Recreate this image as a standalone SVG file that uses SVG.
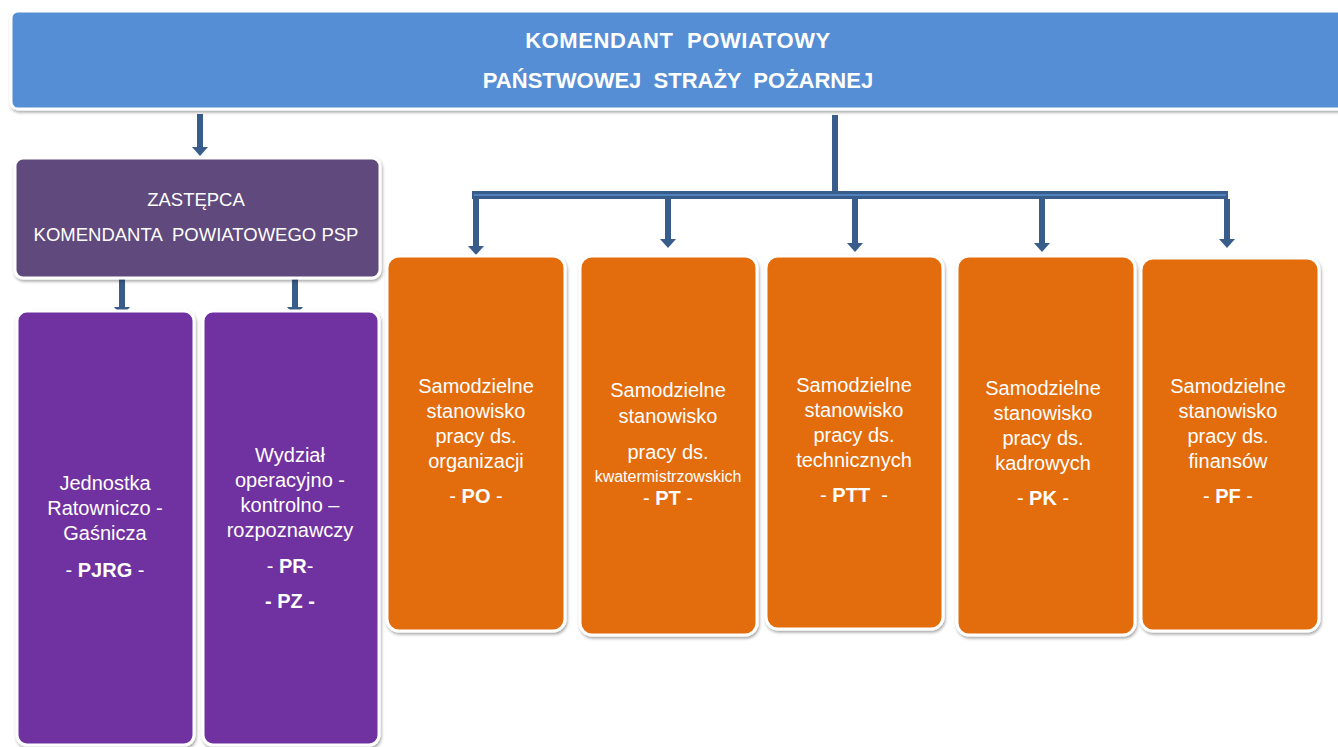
<svg xmlns="http://www.w3.org/2000/svg" width="1338" height="747" viewBox="0 0 1338 747">
<style>
.box{stroke:#fff;stroke-width:3}
.blue{fill:#558ED5}
.dep{fill:#604A7B}
.pur{fill:#7030A0}
.ora{fill:#E36C0A}
text{font-family:"Liberation Sans",Arial,sans-serif;fill:#fff;text-anchor:middle;white-space:pre}
.t{font-size:20px}
.b{font-size:20px;font-weight:bold}
.h{font-size:22px;font-weight:bold}
.z{font-size:18.5px}
.s{font-size:16px}
.c{fill:none;stroke:#385D8A;stroke-width:6}
.ci{fill:none;stroke:#4F81BD;stroke-width:2}
.a{fill:#385D8A}
</style>
<defs>
<filter id="sh" x="-10%" y="-10%" width="120%" height="120%">
<feDropShadow dx="1" dy="2" stdDeviation="1.6" flood-color="#000" flood-opacity="0.35"/>
</filter>
</defs>
<g id="connectors">
<path class="c" d="M200,114 V149"/>
<path class="a" d="M192,147 H208 L200,156 Z"/>
<path class="c" d="M122,277 V308"/>
<path class="a" d="M114,307 H130 L122,316 Z"/>
<path class="c" d="M295,277 V308"/>
<path class="a" d="M287,307 H303 L295,316 Z"/>
<path class="c" d="M835,115 V195"/>
<path class="c" d="M472,195 H1228" style="stroke-width:8"/>
<path class="ci" d="M474,195 H1226"/>
<path class="c" d="M476,199 V247"/>
<path class="a" d="M468,246 H484 L476,255 Z"/>
<path class="c" d="M668,199 V240"/>
<path class="a" d="M660,239 H676 L668,248 Z"/>
<path class="c" d="M855,199 V244"/>
<path class="a" d="M847,243 H863 L855,252 Z"/>
<path class="c" d="M1042,199 V244"/>
<path class="a" d="M1034,243 H1050 L1042,252 Z"/>
<path class="c" d="M1227,199 V240"/>
<path class="a" d="M1219,239 H1235 L1227,248 Z"/>
</g>
<g id="komendant">
<rect class="box blue" x="11" y="11" width="1340" height="98" rx="7" filter="url(#sh)"/>
<text class="h" x="678" y="48" style="letter-spacing:0.6px">KOMENDANT  POWIATOWY</text>
<text class="h" x="678" y="88">PAŃSTWOWEJ  STRAŻY  POŻARNEJ</text>
</g>
<g id="zastepca">
<rect class="box dep" x="15" y="158" width="365" height="120" rx="8" filter="url(#sh)"/>
<text class="z" x="196" y="206">ZASTĘPCA</text>
<text class="z" x="196" y="241">KOMENDANTA  POWIATOWEGO PSP</text>
</g>
<g id="pjrg">
<rect class="box pur" x="17" y="311" width="177" height="434" rx="10" filter="url(#sh)"/>
<text class="t" x="105" y="490">Jednostka</text>
<text class="t" x="105" y="515">Ratowniczo -</text>
<text class="t" x="105" y="540">Gaśnicza</text>
<text class="t" x="105" y="577">- <tspan font-weight="bold">PJRG</tspan> -</text>
</g>
<g id="pr">
<rect class="box pur" x="203" y="311" width="176" height="434" rx="10" filter="url(#sh)"/>
<text class="t" x="290" y="462">Wydział</text>
<text class="t" x="290" y="487">operacyjno -</text>
<text class="t" x="290" y="512">kontrolno –</text>
<text class="t" x="290" y="537">rozpoznawczy</text>
<text class="t" x="290" y="573">- <tspan font-weight="bold">PR</tspan>-</text>
<text class="b" x="290" y="608">- PZ -</text>
</g>
<g id="po">
<rect class="box ora" x="387" y="256" width="178" height="375" rx="12" filter="url(#sh)"/>
<text class="t" x="476" y="393">Samodzielne</text>
<text class="t" x="476" y="418">stanowisko</text>
<text class="t" x="476" y="443">pracy ds.</text>
<text class="t" x="476" y="468">organizacji</text>
<text class="t" x="476" y="503">- <tspan font-weight="bold">PO</tspan> -</text>
</g>
<g id="pt">
<rect class="box ora" x="580" y="256" width="177" height="379" rx="12" filter="url(#sh)"/>
<text class="t" x="668" y="397">Samodzielne</text>
<text class="t" x="668" y="423">stanowisko</text>
<text class="t" x="668" y="459">pracy ds.</text>
<text class="s" x="668" y="482">kwatermistrzowskich</text>
<text class="t" x="668" y="505">- <tspan font-weight="bold">PT</tspan> -</text>
</g>
<g id="ptt">
<rect class="box ora" x="766" y="256" width="177" height="373" rx="12" filter="url(#sh)"/>
<text class="t" x="854" y="392">Samodzielne</text>
<text class="t" x="854" y="417">stanowisko</text>
<text class="t" x="854" y="442">pracy ds.</text>
<text class="t" x="854" y="467">technicznych</text>
<text class="t" x="854" y="502">- <tspan font-weight="bold">PTT</tspan>  -</text>
</g>
<g id="pk">
<rect class="box ora" x="957" y="256" width="178" height="379" rx="12" filter="url(#sh)"/>
<text class="t" x="1043" y="395">Samodzielne</text>
<text class="t" x="1043" y="420">stanowisko</text>
<text class="t" x="1043" y="445">pracy ds.</text>
<text class="t" x="1043" y="470">kadrowych</text>
<text class="t" x="1043" y="505">- <tspan font-weight="bold">PK</tspan> -</text>
</g>
<g id="pf">
<rect class="box ora" x="1141" y="258" width="178" height="373" rx="12" filter="url(#sh)"/>
<text class="t" x="1228" y="393">Samodzielne</text>
<text class="t" x="1228" y="418">stanowisko</text>
<text class="t" x="1228" y="443">pracy ds.</text>
<text class="t" x="1228" y="468">finansów</text>
<text class="t" x="1228" y="503">- <tspan font-weight="bold">PF</tspan> -</text>
</g>
</svg>
